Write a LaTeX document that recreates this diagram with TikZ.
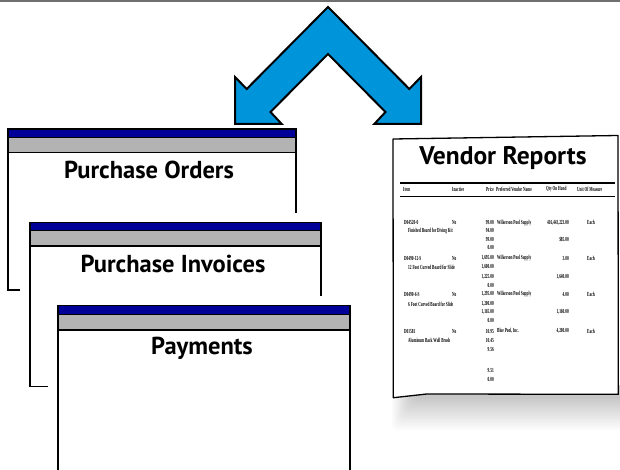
\documentclass[tikz,border=0pt]{standalone}
\usepackage{fontspec}
\usepackage{graphicx}
\newfontfamily\tfont{PT Sans}
\newfontfamily\rfont{Liberation Serif}
\definecolor{arrowblue}{HTML}{0095DA}
\definecolor{navy}{HTML}{000099}
\definecolor{barg}{HTML}{B3B3B3}
\definecolor{topg}{HTML}{707070}
\newcommand\rt[1]{\scalebox{0.56}[1]{#1}}
\newcommand\cellnode[4]{\node[rep,anchor=#1] (#2) at #3 {\rt{#4}};}
\tikzset{
  win/.style={draw=black,line width=1.4pt},
  title/.style={font=\tfont\bfseries\fontsize{24.5}{24.5}\selectfont, inner sep=0pt},
  rep/.style={font=\rfont\bfseries\fontsize{6.2}{6.2}\selectfont, inner sep=0pt, text=black},
}
\begin{document}
\begin{tikzpicture}[x=1pt,y=-1pt]
\useasboundingbox (0,0) rectangle (620,470);
\fill[white] (0,0) rectangle (620,470);
% top line
\fill[topg] (0,0) rectangle (620,2);

% window 1
\draw[win,fill=white] (8,129) rectangle (296,290);
\draw[win,fill=navy] (8,129) rectangle (296,137.3);
\draw[win,fill=barg] (8,137.3) rectangle (296,152.3);
\node[title] (po) at (149,170) {Purchase Orders};

% window 2
\fill[white] (20,213) rectangle (321,386.7);
\draw[win,fill=white] (30,222.7) rectangle (321,386.7);
\draw[win,fill=navy] (30,222.7) rectangle (321,230.7);
\draw[win,fill=barg] (30,230.7) rectangle (321,246);
\node[title] (pi) at (173,264) {Purchase Invoices};

% window 3
\fill[white] (48,296) rectangle (350,472);
\draw[win] (58,472) -- (58,305.7) -- (350,305.7) -- (350,472);
\draw[win,fill=navy] (58,305.7) rectangle (350,314.3);
\draw[win,fill=barg] (58,314.3) rectangle (350,330);
\node[title] (pay) at (202,348) {Payments};

% chevron arrow
\draw[line width=2pt,line join=miter,fill=arrowblue]
  (328,7) -- (409.3,89) -- (421,77) -- (421,124) -- (374.3,124) -- (385.5,112)
  -- (328,54) -- (270.5,112) -- (281.7,124) -- (235,124) -- (235,77) -- (246.7,89) -- cycle;

% paper shadow (soft, stacked layers)
\foreach \i in {0,...,13}
  \fill[black,opacity=0.014,rounded corners=6pt]
    (392+1.6*\i,385) rectangle (632,430-2.4*\i);
% vendor report paper
\draw[line width=1.3pt,fill=white,line join=round]
  (393,139) -- (618,135.5) -- (618.3,394.3) -- (426.7,394) -- (393.3,397.7) -- cycle;
\node[title,font=\tfont\bfseries\fontsize{25.5}{25.5}\selectfont] (vr) at (503,158) {Vendor Reports};
\draw[line width=1.6pt] (400,182.8) -- (615,182.8);
\draw[line width=1.6pt] (400,196.7) -- (615,196.7);

% header
\cellnode{west}{h1}{(403,189.5)}{Item}
\cellnode{west}{h2}{(452,189.5)}{Inactive}
\cellnode{east}{h3}{(494,189.5)}{Price}
\cellnode{west}{h4}{(496,189.5)}{Preferred Vendor Name}
\cellnode{west}{h5}{(546,189.5)}{Qty On Hand}
\cellnode{west}{h6}{(577,189.5)}{Unit Of Measure}

% row 1
\cellnode{west}{a1}{(404,222.7)}{D04520-0}
\cellnode{west}{a2}{(452,222.7)}{No}
\cellnode{east}{a3}{(494,222.7)}{99.00}
\cellnode{west}{a4}{(497,222.7)}{Wilkerson Pool Supply}
\cellnode{east}{a5}{(569,222.7)}{416,443,223.00}
\cellnode{west}{a6}{(587,222.7)}{Each}
\cellnode{west}{a7}{(408,230.7)}{Finished Board for Diving Kit}
\cellnode{east}{a8}{(494,230.7)}{94.00}
\cellnode{east}{a9}{(494,239.3)}{99.00}
\cellnode{east}{a10}{(569,239.3)}{\$85.00}
\cellnode{east}{a11}{(494,247.3)}{0.00}

% row 2
\cellnode{west}{b1}{(404,258.3)}{D0490-12-S}
\cellnode{west}{b2}{(452,258.3)}{No}
\cellnode{east}{b3}{(494,258.3)}{1,695.00}
\cellnode{west}{b4}{(497,258.3)}{Wilkerson Pool Supply}
\cellnode{east}{b5}{(569,258.3)}{3.00}
\cellnode{west}{b6}{(587,258.3)}{Each}
\cellnode{west}{b7}{(408,267)}{12 Foot Curved Board for Slide}
\cellnode{east}{b8}{(494,267)}{1,600.00}
\cellnode{east}{b9}{(494,276.7)}{1,225.00}
\cellnode{east}{b10}{(569,276.7)}{1,640.00}
\cellnode{east}{b11}{(494,285.7)}{0.00}

% row 3
\cellnode{west}{c1}{(404,294.3)}{D0490-6-S}
\cellnode{west}{c2}{(452,294.3)}{No}
\cellnode{east}{c3}{(494,294.3)}{1,295.00}
\cellnode{west}{c4}{(497,294.3)}{Wilkerson Pool Supply}
\cellnode{east}{c5}{(569,294.3)}{4.00}
\cellnode{west}{c6}{(587,294.3)}{Each}
\cellnode{west}{c7}{(408,304)}{6 Foot Curved Board for Slide}
\cellnode{east}{c8}{(494,304)}{1,200.00}
\cellnode{east}{c9}{(494,312.3)}{1,165.00}
\cellnode{east}{c10}{(569,312.3)}{1,160.00}
\cellnode{east}{c11}{(494,320.7)}{0.00}

% row 4
\cellnode{west}{d1}{(404,331)}{D01581}
\cellnode{west}{d2}{(452,331)}{No}
\cellnode{east}{d3}{(494,331)}{10.95}
\cellnode{west}{d4}{(497,331)}{Blue Pool, Inc.}
\cellnode{east}{d5}{(569,331)}{4,200.00}
\cellnode{west}{d6}{(587,331)}{Each}
\cellnode{west}{d7}{(408,340.3)}{Aluminum Back Wall Brush}
\cellnode{east}{d8}{(494,340.3)}{10.45}
\cellnode{east}{d9}{(494,349.3)}{9.56}
\cellnode{east}{d10}{(494,370)}{9.51}
\cellnode{east}{d11}{(494,379.3)}{0.00}
\end{tikzpicture}
\end{document}
